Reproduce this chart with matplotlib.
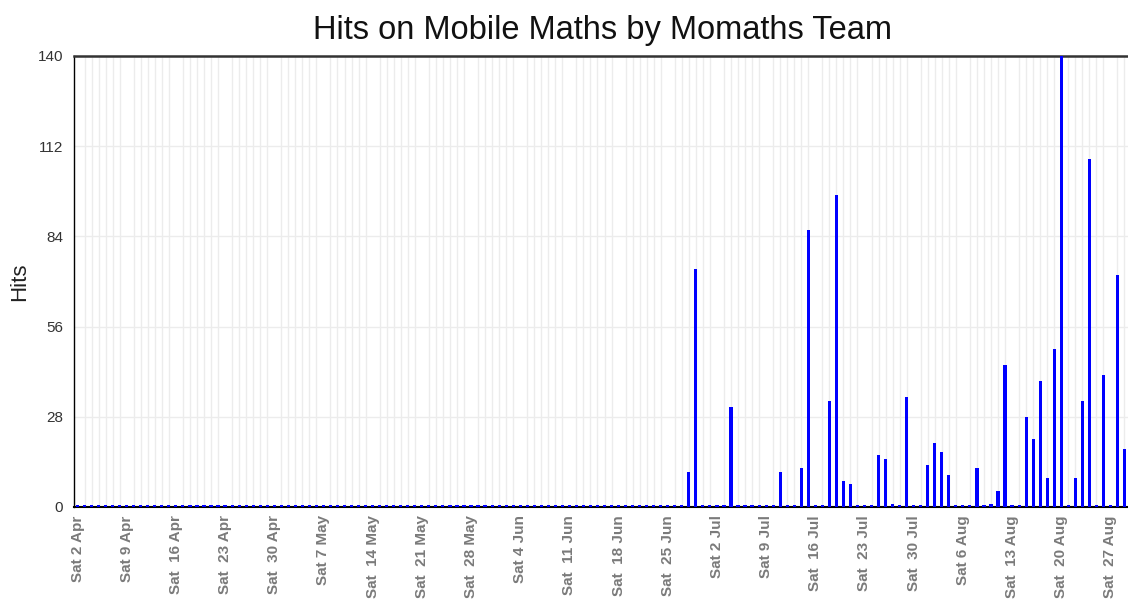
import numpy as np
import pandas as pd
import matplotlib
matplotlib.use("Agg")
import matplotlib.pyplot as plt
import matplotlib.dates as mdates

plt.rcParams['font.family'] = ['Liberation Sans', 'DejaVu Sans']

# daily hits, 2 Apr - 29 Aug 2011 (zero on all other days)
days = pd.date_range("2011-04-02", "2011-08-29", freq="D")
peak_days = ["2011-06-28", "2011-06-29", "2011-07-04", "2011-07-11", "2011-07-14",
             "2011-07-15", "2011-07-18", "2011-07-19", "2011-07-20", "2011-07-21",
             "2011-07-25", "2011-07-26", "2011-07-27", "2011-07-29", "2011-08-01",
             "2011-08-02", "2011-08-03", "2011-08-04", "2011-08-08", "2011-08-10",
             "2011-08-11", "2011-08-12", "2011-08-15", "2011-08-16", "2011-08-17",
             "2011-08-18", "2011-08-19", "2011-08-20", "2011-08-22", "2011-08-23",
             "2011-08-24", "2011-08-26", "2011-08-28", "2011-08-29"]
peak_hits = [11, 74, 31, 11, 12,
             86, 33, 97, 8, 7,
             16, 15, 1, 34, 13,
             20, 17, 10, 12, 1,
             5, 44, 28, 21, 39,
             9, 49, 140, 9, 33,
             108, 41, 72, 18]
yticks = [0, 28, 56, 84, 112, 140]

hits = pd.Series(0, index=days)
hits[pd.to_datetime(peak_days)] = peak_hits

fig = plt.figure(figsize=(11.28, 6), dpi=100)
ax = fig.add_axes([0.0656, 0.155, 0.9344, 0.7517])

# zero days still get a tiny stub like the original chart
shown = np.where(hits.values == 0, 0.6, hits.values)
ax.bar(hits.index, shown, width=0.45, color='#0000ff', zorder=3)

ax.set_xlim(days[0] - pd.Timedelta(hours=12), days[-1] + pd.Timedelta(hours=12))
ax.set_ylim(0, 140)
ax.set_yticks(yticks)
ax.set_yticklabels([str(t) for t in yticks], color='#333333', fontsize=11)

saturdays = pd.date_range(days[0], days[-1], freq="7D")
labels = [f"Sat {d.day} {d:%b}" if d.day < 10 else f"Sat  {d.day} {d:%b}" for d in saturdays]
ax.set_xticks(saturdays)
ax.set_xticklabels(labels, rotation=90, fontsize=11, color='#7a7a7a',
                   fontweight='bold', va='top')
ax.xaxis.set_minor_locator(mdates.DayLocator())
ax.tick_params(axis='both', which='both', length=0)
ax.tick_params(axis='x', pad=6)
ax.tick_params(axis='y', pad=8)

ax.grid(True, axis='x', which='minor', color='#ececec', linewidth=1, zorder=0)
ax.grid(True, axis='y', which='major', color='#ececec', linewidth=1, zorder=0)

ax.spines['right'].set_visible(False)
ax.spines['top'].set_color('#333333')
ax.spines['top'].set_linewidth(1.8)
ax.spines['bottom'].set_linewidth(1.5)
ax.spines['left'].set_linewidth(1)

ax.set_ylabel('Hits', fontsize=16, color='#222222', va='center')
ax.yaxis.set_label_coords(-0.052, 0.5)
fig.text(0.534, 0.95, 'Hits on Mobile Maths by Momaths Team', ha='center', va='center',
         fontsize=23.5, color='#111111')

fig.savefig('out.png', dpi=100)
